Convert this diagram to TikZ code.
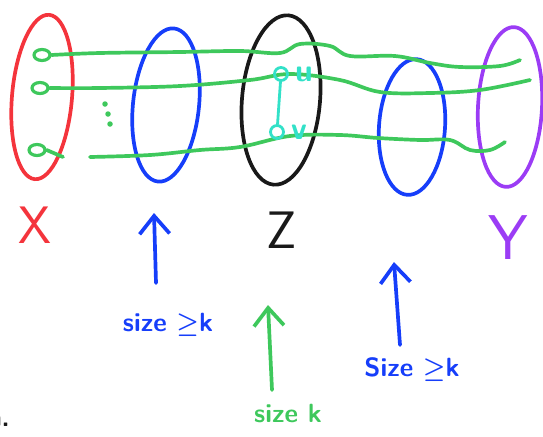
\documentclass[tikz,border=0pt]{standalone}
\usepackage{amsmath}
\usetikzlibrary{arrows.meta,positioning,shapes.geometric}

\definecolor{lred}{RGB}{244,52,60}
\definecolor{lblue}{RGB}{22,62,250}
\definecolor{lgreen}{RGB}{62,200,92}
\definecolor{lpurple}{RGB}{155,60,245}
\definecolor{lcyan}{RGB}{50,225,200}
\definecolor{lblack}{RGB}{25,25,25}

\begin{document}
\begin{tikzpicture}[
  x=0.02cm, y=-0.02cm, line cap=round, line join=round,
  >={Straight Barb[length=3.6mm,width=6mm]},
  set/.style={draw, ellipse, line width=2.1pt, inner sep=0pt},
  gline/.style={draw=lgreen, line width=2.1pt},
  loopv/.style={draw=lgreen, ellipse, line width=1.8pt, minimum width=3.2mm, minimum height=2.2mm, inner sep=0pt},
  vtx/.style={draw=lcyan, circle, line width=1.6pt, minimum size=2.6mm, inner sep=0pt},
  dotv/.style={fill=lgreen, circle, minimum size=1.1mm, inner sep=0pt},
  arr/.style={->, line width=2.1pt},
  tag/.style={font=\sffamily\bfseries\fontsize{15}{17}\selectfont},
  big/.style={font=\sffamily\fontsize{30}{32}\selectfont},
]
\useasboundingbox (0,0) rectangle (543,436);

% the five sets
\node[set, draw=lred, minimum width=1.2cm, minimum height=3.3cm, rotate=-5] (setX) at (42,97) {};
\node[set, draw=lblue, minimum width=1.32cm, minimum height=3.08cm, rotate=-6] (setA) at (166,105) {};
\node[set, draw=lblack, minimum width=1.56cm, minimum height=3.4cm, rotate=-5] (setZ) at (281,100) {};
\node[set, draw=lblue, minimum width=1.32cm, minimum height=2.72cm, rotate=-4] (setB) at (412,127) {};
\node[set, draw=lpurple, minimum width=1.28cm, minimum height=3.2cm, rotate=-3] (setY) at (510,107) {};

% paths from X to Y
\node[loopv] (a1) at (42,55) {};
\node[loopv] (a2) at (40,88) {};
\node[loopv] (a3) at (37,150) {};
\coordinate (e1) at (520,60);
\coordinate (e2) at (530,80);
\coordinate (g1) at (63,157);
\coordinate (g2) at (90,157);
\coordinate (e3) at (505,142);

\draw[gline] plot[smooth, tension=.6] coordinates {(a1.east) (100,53) (180,52) (240,51) (280,53) (300,44) (330,46) (350,56) (395,56) (430,63) (460,67) (500,66) (e1)};
\draw[gline] plot[smooth, tension=.6] coordinates {(a2.east) (100,88) (180,86) (250,80) (290,74) (340,80) (380,92) (430,93) (480,90) (e2)};
\draw[gline] (a3.east) -- (g1);
\draw[gline] plot[smooth, tension=.6] coordinates {(g2) (150,155) (200,150) (240,147) (290,136) (340,135) (378,138) (420,140) (450,140) (470,150) (490,150) (e3)};
\node[dotv] (d1) at (105,104) {};
\node[dotv] (d2) at (108,114) {};
\node[dotv] (d3) at (110,124) {};

% edge uv inside Z
\node[vtx] (u) at (281,74) {};
\node[vtx] (v) at (277,132) {};
\draw[draw=lcyan, line width=1.6pt] (u) -- (v);
\node[text=lcyan, font=\sffamily\bfseries\fontsize{18}{20}\selectfont, right=0pt of u] (lu) {u};
\node[text=lcyan, font=\sffamily\bfseries\fontsize{18}{20}\selectfont, right=0pt of v] (lv) {v};

% set names
\node[big, text=lred] (lX) at (35,225) {X};
\node[big, text=lblack] (lZ) at (282,230) {Z};
\node[big, text=lpurple, font=\sffamily\fontsize{36}{38}\selectfont] (lY) at (508,238) {Y};

% sizes
\node[tag, text=lblue] (szA) at (168,325) {size $\boldsymbol{\geq}$k};
\node[tag, text=lgreen] (szZ) at (288,413) {size k};
\node[tag, text=lblue] (szB) at (412,370) {Size $\boldsymbol{\geq}$k};
\coordinate (sA) at (156,283);
\coordinate (tA) at (154,213);
\coordinate (sZ) at (272,390);
\coordinate (tZ) at (268,305);
\coordinate (sB) at (400,345);
\coordinate (tB) at (394,262);
\draw[arr, lblue] (sA) -- (tA);
\draw[arr, lgreen] (sZ) -- (tZ);
\draw[arr, lblue] (sB) -- (tB);

\node[tag, text=lblack, anchor=base east] (frag) at (16,426) {a.};
\end{tikzpicture}
\end{document}
